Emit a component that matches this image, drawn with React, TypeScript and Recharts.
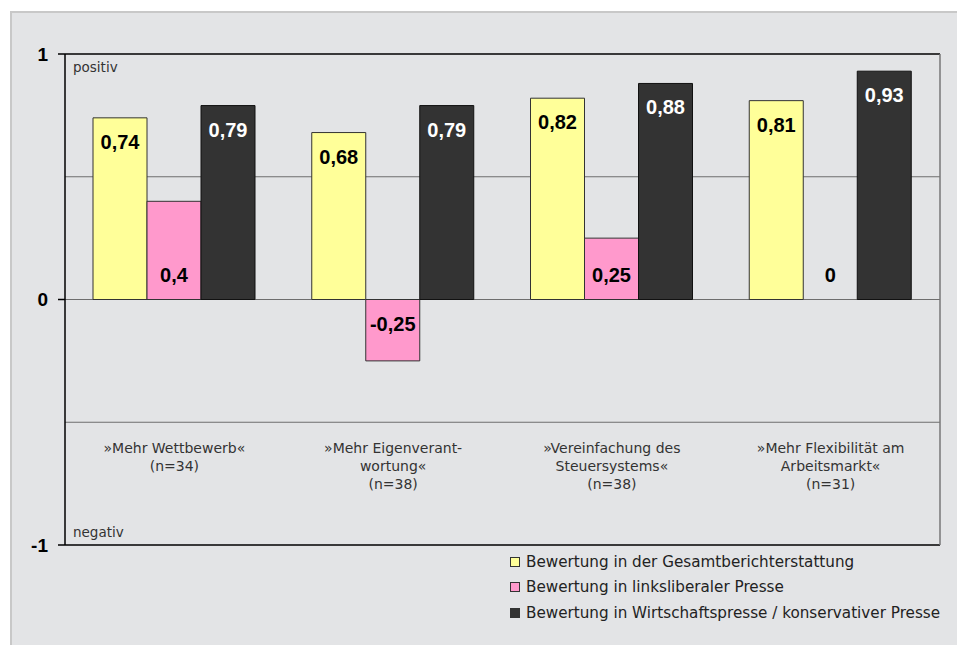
import { BarChart, Bar, XAxis, YAxis, CartesianGrid, ReferenceLine, LabelList, Rectangle } from "recharts";

const categories = [
  "»Mehr Wettbewerb«\n(n=34)",
  "»Mehr Eigenverant-\nwortung«\n(n=38)",
  "»Vereinfachung des\nSteuersystems«\n(n=38)",
  "»Mehr Flexibilität am\nArbeitsmarkt«\n(n=31)",
];
const gesamt = [0.74, 0.68, 0.82, 0.81];
const links = [0.4, -0.25, 0.25, 0];
const wirtschaft = [0.79, 0.79, 0.88, 0.93];
const yTicks = [-1, 0, 1];

const series = [
  { key: "gesamt", name: "Bewertung in der Gesamtberichterstattung", color: "#ffff99", stroke: "#333", text: "#000" },
  { key: "links", name: "Bewertung in linksliberaler Presse", color: "#ff99cc", stroke: "#333", text: "#000" },
  { key: "wirtschaft", name: "Bewertung in Wirtschaftspresse / konservativer Presse", color: "#333333", stroke: "#111", text: "#fff" },
];

const data = categories.map((c, i) => ({
  cat: c,
  gesamt: gesamt[i],
  links: links[i],
  wirtschaft: wirtschaft[i],
}));

const fmt = (v: number) => String(v).replace(".", ",");

const CatTick = (props: any) => {
  const { x, y, payload } = props;
  const lines = String(payload.value).split("\n");
  return (
    <text x={x} y={y - 92} textAnchor="middle" fill="#333" fontFamily="DejaVu Sans" fontSize={14}>
      {lines.map((l, i) => (
        <tspan key={i} x={x} dy={i === 0 ? 0 : 18}>
          {l}
        </tspan>
      ))}
    </text>
  );
};

// zero-valued bars keep their label but draw no rectangle
const BarShape = (props: any) => (props.value === 0 ? <g /> : <Rectangle {...props} />);

const makeLabel = (color: string, atZero: boolean) => (props: any) => {
  const { x, y, width, height, value } = props;
  const top = Math.min(y, y + height);
  const bottom = Math.max(y, y + height);
  let cy = top + 24;
  if (atZero) cy = value >= 0 ? bottom - 25 : top + 24;
  return (
    <text
      x={x + width / 2}
      y={cy}
      textAnchor="middle"
      dominantBaseline="central"
      fill={color}
      fontFamily="Liberation Sans, Arial"
      fontWeight="bold"
      fontSize={20}
    >
      {fmt(value)}
    </text>
  );
};

export default function App() {
  return (
    <div style={{ position: "fixed", left: 0, top: 0, width: 957, height: 645, overflow: "hidden", background: "#fff" }}>
      <div
        style={{
          position: "absolute",
          left: 10,
          top: 11,
          width: 960,
          height: 700,
          background: "#e3e4e6",
          borderTop: "2px solid #c8c8c8",
          borderLeft: "2px solid #c8c8c8",
          boxSizing: "border-box",
        }}
      />
      <div style={{ position: "absolute", left: 0, top: 0 }}>
        <BarChart
          width={957}
          height={645}
          data={data}
          margin={{ top: 54, right: 0, bottom: 0, left: 0 }}
          barGap={0}
          barSize={54}
        >
          <CartesianGrid vertical={false} horizontalValues={[0.5, 0, -0.5]} stroke="#6e6e6e" strokeWidth={1.2} />
          <XAxis
            dataKey="cat"
            height={100}
            axisLine={false}
            tickLine={false}
            tickSize={0}
            tickMargin={0}
            interval={0}
            tick={<CatTick />}
          />
          <YAxis
            type="number"
            domain={[-1, 1]}
            ticks={yTicks}
            width={65}
            tickSize={7}
            tickMargin={10}
            tickFormatter={(v: number) => String(v)}
            axisLine={{ stroke: "#000", strokeWidth: 1.5 }}
            tickLine={{ stroke: "#000", strokeWidth: 1.5 }}
            tick={{ fill: "#000", fontFamily: "Liberation Sans, Arial", fontWeight: "bold", fontSize: 19 }}
          />
          <YAxis
            yAxisId="r"
            orientation="right"
            domain={[-1, 1]}
            width={17}
            tick={false}
            tickLine={false}
            axisLine={{ stroke: "#777", strokeWidth: 1.5 }}
          />
          {series.map((s) => (
            <Bar
              key={s.key}
              dataKey={s.key}
              name={s.name}
              fill={s.color}
              stroke={s.stroke}
              strokeWidth={1}
              minPointSize={s.key === "links" ? 1 : 0}
              shape={BarShape}
              isAnimationActive={false}
            >
              <LabelList dataKey={s.key} content={makeLabel(s.text, s.key === "links")} />
            </Bar>
          ))}
          <ReferenceLine
            y={1}
            stroke="#000"
            strokeWidth={1.5}
            label={{ value: "positiv", position: "insideTopLeft", offset: 8, fill: "#333", fontFamily: "DejaVu Sans", fontSize: 13.5 }}
          />
          <ReferenceLine
            y={-1}
            stroke="#000"
            strokeWidth={1.5}
            label={{ value: "negativ", position: "insideBottomLeft", offset: 8, fill: "#333", fontFamily: "DejaVu Sans", fontSize: 13.5 }}
          />
        </BarChart>
      </div>
      <div
        style={{
          position: "absolute",
          left: 510,
          top: 549,
          width: 430,
          overflow: "hidden",
          whiteSpace: "nowrap",
          fontFamily: "DejaVu Sans",
          fontSize: 15.2,
          color: "#222",
        }}
      >
        {series.map((s) => (
          <div key={s.key} style={{ height: 25.5, display: "flex", alignItems: "center" }}>
            <span
              style={{
                width: 8,
                height: 8,
                background: s.color,
                border: "1px solid #333",
                marginRight: 6,
                flexShrink: 0,
              }}
            />
            {s.name}
          </div>
        ))}
      </div>
    </div>
  );
}
